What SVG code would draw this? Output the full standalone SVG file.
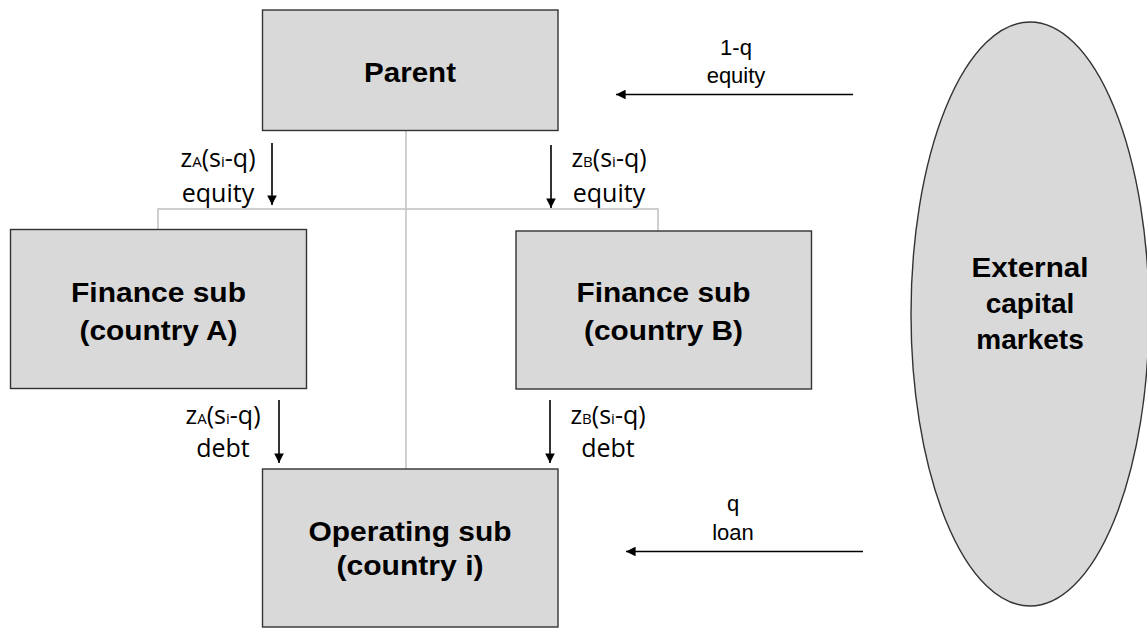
<svg xmlns="http://www.w3.org/2000/svg" width="1147" height="628" viewBox="0 0 1147 628">
<defs>
<style>
.box{fill:#d9d9d9;stroke:#333333;stroke-width:1.4}
.tree{fill:none;stroke:#c0c0c0;stroke-width:1.5}
.flow{fill:none;stroke:#000;stroke-width:1.6}
.nt{font-family:"Liberation Sans",Arial,sans-serif;font-weight:bold;font-size:28px;fill:#000;text-anchor:middle}
.lb{font-family:"Open Sans","Noto Sans",sans-serif;font-size:25px;fill:#000;text-anchor:middle}
.sub{font-size:15px}
.ext{font-family:"Liberation Sans",Arial,sans-serif;font-size:22px;fill:#000;text-anchor:middle}
</style>
<marker id="ah" viewBox="0 0 10 10" refX="10" refY="5" markerWidth="6" markerHeight="6" markerUnits="strokeWidth" orient="auto">
<path d="M0,0 L10,5 L0,10 Z" fill="#000"/>
</marker>
</defs>
<rect width="1147" height="628" fill="#fff"/>

<g id="connectors">
<path class="tree" d="M406,131 V469"/>
<path class="tree" d="M158,229 V209 H658 V231"/>
<line class="flow" x1="272" y1="143" x2="272" y2="205" marker-end="url(#ah)"/>
<line class="flow" x1="551" y1="145" x2="551" y2="208" marker-end="url(#ah)"/>
<line class="flow" x1="279" y1="400" x2="279" y2="463" marker-end="url(#ah)"/>
<line class="flow" x1="550" y1="400" x2="550" y2="463" marker-end="url(#ah)"/>
<line class="flow" x1="853" y1="94.5" x2="616" y2="94.5" marker-end="url(#ah)"/>
<line class="flow" x1="863" y1="551.5" x2="626" y2="551.5" marker-end="url(#ah)"/>
<text class="lb" x="218" y="167">z<tspan class="sub">A</tspan>(s<tspan class="sub">i</tspan>-q)</text>
<text class="lb" x="218" y="202">equity</text>
<text class="lb" x="609" y="167">z<tspan class="sub">B</tspan>(s<tspan class="sub">i</tspan>-q)</text>
<text class="lb" x="609" y="202">equity</text>
<text class="lb" x="223" y="424">z<tspan class="sub">A</tspan>(s<tspan class="sub">i</tspan>-q)</text>
<text class="lb" x="223" y="457">debt</text>
<text class="lb" x="608" y="424">z<tspan class="sub">B</tspan>(s<tspan class="sub">i</tspan>-q)</text>
<text class="lb" x="608" y="457">debt</text>
<text class="ext" x="736" y="55">1-q</text>
<text class="ext" x="736" y="83">equity</text>
<text class="ext" x="733" y="511">q</text>
<text class="ext" x="733" y="540">loan</text>
</g>

<g id="parent">
<rect class="box" x="262.5" y="10" width="295.5" height="120.5"/>
<text class="nt" x="410" y="82" textLength="92" lengthAdjust="spacingAndGlyphs">Parent</text>
</g>

<g id="finance-a">
<rect class="box" x="10.5" y="229.5" width="296" height="159"/>
<text class="nt" x="158.5" y="302" textLength="175" lengthAdjust="spacingAndGlyphs">Finance sub</text>
<text class="nt" x="158.5" y="340" textLength="158" lengthAdjust="spacingAndGlyphs">(country A)</text>
</g>

<g id="finance-b">
<rect class="box" x="516" y="231" width="295.5" height="158"/>
<text class="nt" x="663.5" y="302" textLength="174" lengthAdjust="spacingAndGlyphs">Finance sub</text>
<text class="nt" x="663.5" y="340" textLength="159" lengthAdjust="spacingAndGlyphs">(country B)</text>
</g>

<g id="operating">
<rect class="box" x="262.5" y="469" width="295.5" height="158"/>
<text class="nt" x="410" y="541" textLength="203" lengthAdjust="spacingAndGlyphs">Operating sub</text>
<text class="nt" x="410" y="575" textLength="147" lengthAdjust="spacingAndGlyphs">(country i)</text>
</g>

<g id="external">
<ellipse class="box" cx="1030" cy="314" rx="119" ry="292"/>
<text class="nt" x="1030" y="277" textLength="117" lengthAdjust="spacingAndGlyphs">External</text>
<text class="nt" x="1030" y="313">capital</text>
<text class="nt" x="1030" y="349">markets</text>
</g>
</svg>
